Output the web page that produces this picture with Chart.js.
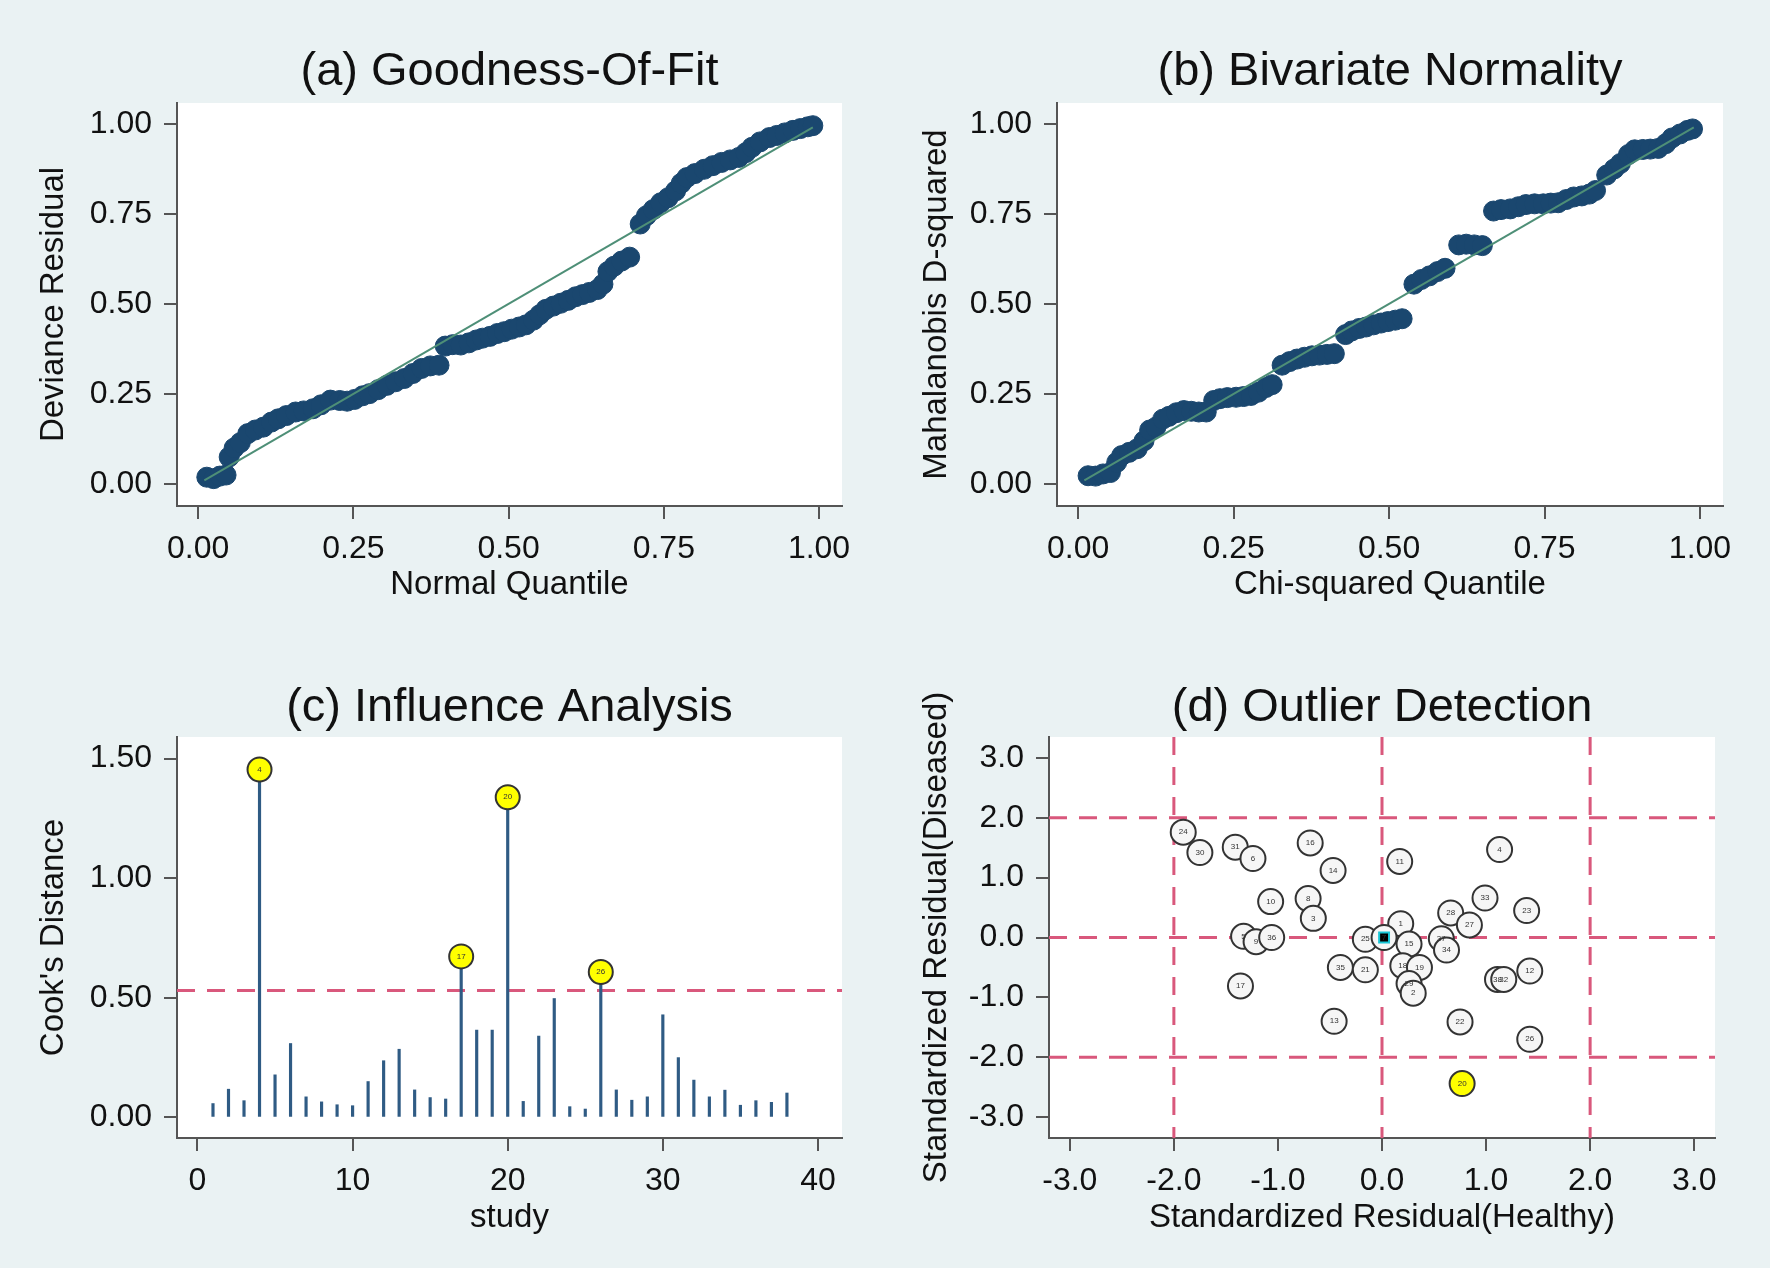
<!DOCTYPE html>
<html>
<head>
<meta charset="utf-8">
<script src="https://cdn.jsdelivr.net/npm/chart.js@4.4.1/dist/chart.umd.min.js"></script>
<style>
html, body { margin: 0; padding: 0; background: #eaf2f3; }
#wrap { position: relative; width: 1770px; height: 1268px; }
canvas { position: absolute; }
</style>
</head>
<body>
<div id="wrap">
<canvas id="chartA" width="885" height="634" style="left:0;top:0"></canvas>
<canvas id="chartB" width="885" height="634" style="left:885px;top:0"></canvas>
<canvas id="chartC" width="885" height="634" style="left:0;top:634px"></canvas>
<canvas id="chartD" width="885" height="634" style="left:885px;top:634px"></canvas>
</div>
<script>
// (a) goodness of fit
const gofX = [0.014,0.025,0.035,0.045,0.050,0.058,0.068,0.080,0.092,0.105,0.118,0.129,0.142,0.157,0.170,0.185,0.198,0.213,0.228,0.240,0.252,0.265,0.276,0.290,0.304,0.318,0.332,0.346,0.360,0.374,0.388,0.398,0.410,0.423,0.436,0.448,0.458,0.470,0.482,0.493,0.505,0.517,0.528,0.540,0.550,0.560,0.572,0.584,0.596,0.608,0.619,0.630,0.643,0.652,0.660,0.670,0.682,0.695,0.712,0.722,0.733,0.745,0.757,0.769,0.778,0.787,0.800,0.815,0.829,0.843,0.857,0.871,0.882,0.892,0.905,0.920,0.932,0.945,0.958,0.970,0.982,0.990];
const gofY = [0.019,0.015,0.022,0.025,0.075,0.100,0.115,0.140,0.150,0.158,0.172,0.181,0.190,0.200,0.203,0.209,0.220,0.233,0.232,0.230,0.235,0.245,0.251,0.262,0.274,0.284,0.293,0.307,0.321,0.328,0.330,0.383,0.387,0.386,0.392,0.400,0.405,0.410,0.418,0.423,0.430,0.436,0.442,0.455,0.470,0.485,0.494,0.502,0.510,0.520,0.526,0.532,0.540,0.555,0.590,0.605,0.619,0.630,0.722,0.745,0.762,0.781,0.795,0.814,0.835,0.851,0.862,0.874,0.884,0.893,0.900,0.907,0.920,0.935,0.950,0.962,0.968,0.975,0.982,0.987,0.992,0.995];

// (b) bivariate normality
const bvnX = [0.016,0.028,0.040,0.052,0.062,0.070,0.082,0.095,0.106,0.115,0.125,0.136,0.146,0.158,0.170,0.182,0.194,0.206,0.218,0.228,0.240,0.254,0.266,0.278,0.290,0.302,0.312,0.328,0.340,0.352,0.364,0.376,0.388,0.400,0.412,0.430,0.440,0.452,0.463,0.475,0.487,0.498,0.510,0.521,0.540,0.552,0.565,0.578,0.590,0.612,0.624,0.637,0.650,0.668,0.680,0.695,0.708,0.720,0.734,0.748,0.760,0.772,0.785,0.797,0.810,0.822,0.832,0.850,0.862,0.872,0.885,0.895,0.908,0.920,0.933,0.945,0.955,0.968,0.980,0.988];
const bvnY = [0.023,0.022,0.028,0.032,0.060,0.079,0.088,0.098,0.120,0.150,0.158,0.180,0.188,0.198,0.204,0.202,0.200,0.200,0.232,0.237,0.240,0.241,0.243,0.246,0.255,0.268,0.276,0.330,0.340,0.347,0.352,0.356,0.358,0.360,0.362,0.415,0.425,0.432,0.436,0.442,0.447,0.451,0.455,0.459,0.555,0.568,0.578,0.590,0.599,0.664,0.666,0.664,0.662,0.758,0.762,0.764,0.770,0.776,0.778,0.778,0.780,0.781,0.790,0.797,0.800,0.805,0.815,0.858,0.875,0.890,0.915,0.928,0.929,0.930,0.932,0.945,0.961,0.972,0.982,0.986];

const fitX = [0.01, 0.99];
const fitY = [0.01, 0.99];
const unitTicks = [0, 0.25, 0.5, 0.75, 1];

// (c) influence analysis
const studies = [1,2,3,4,5,6,7,8,9,10,11,12,13,14,15,16,17,18,19,20,21,22,23,24,25,26,27,28,29,30,31,32,33,34,35,36,37,38];
const cooksD = [0.058,0.118,0.070,1.454,0.178,0.309,0.086,0.065,0.053,0.049,0.150,0.237,0.285,0.115,0.083,0.077,0.673,0.365,0.365,1.338,0.067,0.340,0.497,0.045,0.035,0.608,0.115,0.072,0.086,0.429,0.250,0.156,0.086,0.114,0.051,0.070,0.063,0.102];
const cooksCut = 0.53;
const cooksTicks = [0, 0.5, 1, 1.5];
const studyTicks = [0, 10, 20, 30, 40];

// (d) outlier detection
const residHealthy  = [-1.91,-1.75,-1.41,-1.24,-0.69,-0.47,0.17,1.13,-1.07,-0.71,-0.66,0.99,1.39,0.66,0.84,0.18,-1.33,-1.21,-1.06,-0.16,0.02,0.26,0.57,0.62,-0.40,-0.16,0.20,0.36,0.26,0.30,1.11,1.17,1.42,-1.36,-0.46,0.75,1.42,0.77];
const residDiseased = [1.76,1.42,1.51,1.32,1.58,1.12,1.27,1.47,0.60,0.65,0.32,0.66,0.45,0.41,0.21,0.23,0.02,-0.07,0.00,-0.03,0.00,-0.11,-0.02,-0.21,-0.50,-0.54,-0.47,-0.50,-0.77,-0.93,-0.70,-0.70,-0.56,-0.81,-1.40,-1.41,-1.70,-2.44];
const residLabels = ['24','30','31','6','16','14','11','4','10','8','3','33','23','28','27','1','5','9','36','25','7','15','37','34','35','21','18','19','29','2','38','32','12','17','13','22','26','20'];
const summaryX = [0.02];
const summaryY = [0.0];
const residTicks = [-3, -2, -1, 0, 1, 2, 3];
const residCuts = [-2, 0, 2];

Chart.defaults.font.family = "'Liberation Sans', Arial, sans-serif";
Chart.defaults.color = '#111';

const navy = '#1a476f';
const fitGreen = '#4e8f77';
const cutPink = '#d9587c';

const toXY = (xs, ys) => xs.map((x, i) => ({ x: x, y: ys[i] }));

const plotBg = {
    id: 'plotBg',
    beforeDraw(chart) {
        const a = chart.chartArea;
        chart.ctx.save();
        chart.ctx.fillStyle = '#ffffff';
        chart.ctx.fillRect(a.left, a.top, a.right - a.left, a.bottom - a.top);
        chart.ctx.restore();
    }
};

const refLines = {
    id: 'refLines',
    beforeDatasetsDraw(chart, args, opts) {
        const { ctx, chartArea: a, scales } = chart;
        ctx.save();
        ctx.strokeStyle = cutPink;
        ctx.lineWidth = 3;
        ctx.setLineDash([18, 12]);
        (opts.x || []).forEach(v => {
            const px = scales.x.getPixelForValue(v);
            ctx.beginPath(); ctx.moveTo(px, a.top); ctx.lineTo(px, a.bottom); ctx.stroke();
        });
        (opts.y || []).forEach(v => {
            const py = scales.y.getPixelForValue(v);
            ctx.beginPath(); ctx.moveTo(a.left, py); ctx.lineTo(a.right, py); ctx.stroke();
        });
        ctx.restore();
    }
};

const pointText = {
    id: 'pointText',
    afterDatasetsDraw(chart) {
        const ctx = chart.ctx;
        ctx.save();
        ctx.font = "8px 'Liberation Sans', Arial, sans-serif";
        ctx.fillStyle = '#333';
        ctx.textAlign = 'center';
        ctx.textBaseline = 'middle';
        chart.data.datasets.forEach((ds, i) => {
            if (!ds.pointText) return;
            chart.getDatasetMeta(i).data.forEach((el, j) => {
                ctx.fillText(ds.pointText[j], el.x, el.y);
            });
        });
        ctx.restore();
    }
};

function axis(o) {
    return {
        type: 'linear',
        min: o.min,
        max: o.max,
        offset: false,
        afterBuildTicks: s => { s.ticks = o.ticks.map(v => ({ value: v })); },
        afterFit: s => { if (o.width) s.width = o.width; if (o.height) s.height = o.height; },
        ticks: { font: { size: 32 }, color: '#111', padding: o.tickPad, callback: v => v.toFixed(o.dec) },
        grid: { drawOnChartArea: false, drawTicks: true, tickLength: 13, tickColor: '#555', lineWidth: 2, offset: false },
        border: { display: true, color: '#555', width: 2 },
        title: { display: true, text: o.title, font: { size: 33 }, color: '#111', padding: o.titlePad }
    };
}

function panel(id, p) {
    return new Chart(document.getElementById(id), {
        type: 'scatter',
        data: { datasets: p.datasets },
        options: {
            responsive: false,
            animation: false,
            devicePixelRatio: 1,
            events: [],
            layout: { padding: p.pad },
            plugins: {
                legend: { display: false },
                tooltip: { enabled: false },
                title: {
                    display: true, text: p.title, color: '#111',
                    fullSize: false,
                    font: { size: 47, weight: 'normal' },
                    padding: p.titlePad
                },
                refLines: p.refLines || {}
            },
            scales: { x: p.x, y: p.y }
        },
        plugins: [plotBg, refLines, pointText]
    });
}

const fitLine = () => ({
    type: 'line', data: toXY(fitX, fitY), borderColor: fitGreen, borderWidth: 2,
    pointRadius: 0, fill: false, tension: 0
});

panel('chartA', {
    title: '(a) Goodness-Of-Fit',
    titlePad: { top: 43.5, bottom: 3.1 },
    pad: { left: 20, right: 43, top: 0, bottom: 0 },
    datasets: [
        fitLine(),
        { data: toXY(gofX, gofY), backgroundColor: navy, borderColor: navy, borderWidth: 1, pointRadius: 10 }
    ],
    x: axis({ min: -0.034, max: 1.037, ticks: unitTicks, dec: 2, height: 128, tickPad: 11,
              title: 'Normal Quantile', titlePad: { top: 0, bottom: 29 } }),
    y: axis({ min: -0.061, max: 1.058, ticks: unitTicks, dec: 2, width: 157, tickPad: 12,
              title: 'Deviance Residual', titlePad: { top: 14, bottom: 0 } })
});

panel('chartB', {
    title: '(b) Bivariate Normality',
    titlePad: { top: 43.5, bottom: 3.1 },
    pad: { left: 16, right: 47, top: 0, bottom: 0 },
    datasets: [
        fitLine(),
        { data: toXY(bvnX, bvnY), backgroundColor: navy, borderColor: navy, borderWidth: 1, pointRadius: 10 }
    ],
    x: axis({ min: -0.034, max: 1.037, ticks: unitTicks, dec: 2, height: 128, tickPad: 11,
              title: 'Chi-squared Quantile', titlePad: { top: 0, bottom: 29 } }),
    y: axis({ min: -0.061, max: 1.058, ticks: unitTicks, dec: 2, width: 156, tickPad: 12,
              title: 'Mahalanobis D-squared', titlePad: { top: 16, bottom: 0 } })
});

const flaggedIdx = cooksD.map((v, i) => i).filter(i => cooksD[i] > cooksCut);

panel('chartC', {
    title: '(c) Influence Analysis',
    titlePad: { top: 45.5, bottom: 1.1 },
    pad: { left: 20, right: 43, top: 0, bottom: 0 },
    refLines: { y: [cooksCut] },
    datasets: [
        {
            data: flaggedIdx.map(i => ({ x: studies[i], y: cooksD[i] })),
            pointText: flaggedIdx.map(i => String(studies[i])),
            backgroundColor: '#ffff00', borderColor: '#333', borderWidth: 2, pointRadius: 12
        },
        {
            type: 'bar', data: toXY(studies, cooksD), backgroundColor: '#2f5b84',
            barThickness: 2.5, grouped: false
        }
    ],
    x: axis({ min: -1.32, max: 41.55, ticks: studyTicks, dec: 0, height: 130, tickPad: 11,
              title: 'study', titlePad: { top: 0, bottom: 30 } }),
    y: axis({ min: -0.086, max: 1.59, ticks: cooksTicks, dec: 2, width: 157, tickPad: 12,
              title: "Cook's Distance", titlePad: { top: 14, bottom: 0 } })
});

const isOut = i => Math.abs(residHealthy[i]) > 2 || Math.abs(residDiseased[i]) > 2;

panel('chartD', {
    title: '(d) Outlier Detection',
    titlePad: { top: 45.5, bottom: 1.1 },
    pad: { left: 16, right: 55, top: 0, bottom: 0 },
    refLines: { x: residCuts, y: residCuts },
    datasets: [
        {
            data: toXY(summaryX, summaryY), pointStyle: 'rect', pointRadius: 7,
            backgroundColor: '#000', borderColor: '#19c6d6', borderWidth: 2
        },
        {
            data: toXY(residHealthy, residDiseased),
            pointText: residLabels,
            backgroundColor: ctx => isOut(ctx.dataIndex) ? '#ffff00' : '#f6f6f6',
            borderColor: '#333', borderWidth: 2, pointRadius: 12.5
        }
    ],
    x: axis({ min: -3.2, max: 3.2, ticks: residTicks, dec: 1, height: 130, tickPad: 11,
              title: 'Standardized Residual(Healthy)', titlePad: { top: 0, bottom: 30 } }),
    y: axis({ min: -3.35, max: 3.35, ticks: residTicks, dec: 1, width: 148, tickPad: 12,
              title: 'Standardized Residual(Diseased)', titlePad: { top: 16, bottom: 0 } })
});
</script>
</body>
</html>
